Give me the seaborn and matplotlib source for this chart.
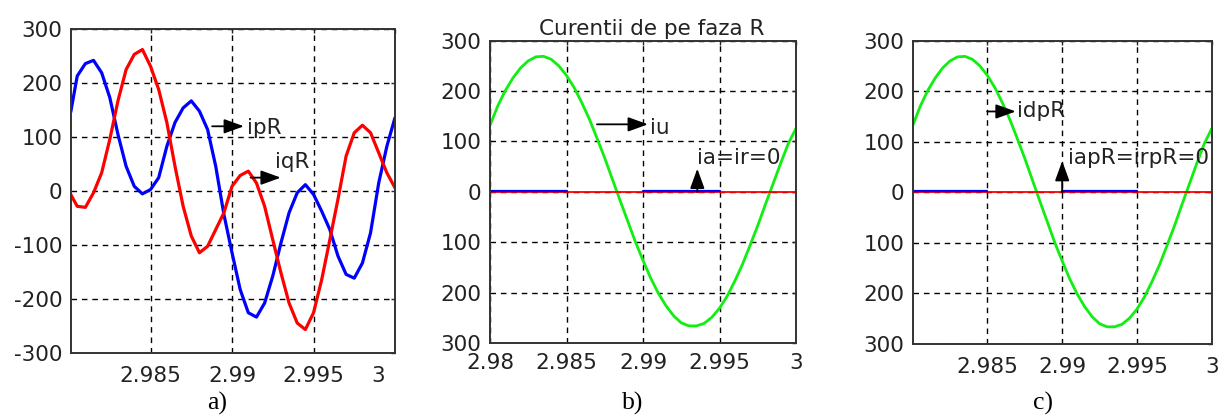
import matplotlib
matplotlib.use("Agg")
import matplotlib.pyplot as plt
import matplotlib.transforms as mtransforms
import pandas as pd
import seaborn as sns

# ---------------- data ----------------
t_a = [2.9801, 2.9805, 2.9810, 2.9815, 2.9820, 2.9825, 2.9830, 2.9835, 2.9840, 2.9845,
       2.9850, 2.9855, 2.9860, 2.9865, 2.9870, 2.9875, 2.9880, 2.9885, 2.9890, 2.9895,
       2.9900, 2.9905, 2.9910, 2.9915, 2.9920, 2.9925, 2.9930, 2.9935, 2.9940, 2.9945,
       2.9950, 2.9955, 2.9960, 2.9965, 2.9970, 2.9975, 2.9980, 2.9985, 2.9990, 2.9995,
       3.0000]
ipR = [146, 213, 236, 242, 219, 173, 105, 46, 9, -5,
       3, 25, 83, 127, 154, 167, 148, 114, 46, -43,
       -114, -182, -225, -233, -207, -157, -96, -40, -3, 12,
       -6, -37, -71, -120, -154, -161, -133, -77, 15, 83,
       136]
iqR = [-6, -28, -30, -3, 34, 96, 167, 225, 253, 262,
       231, 188, 127, 46, -28, -83, -114, -102, -71, -40,
       9, 29, 37, 15, -28, -90, -151, -207, -244, -256,
       -225, -164, -90, -15, 65, 108, 122, 108, 71, 34,
       6]

t_b = [2.9800, 2.9805, 2.9810, 2.9815, 2.9820, 2.9825, 2.9830, 2.9835, 2.9840, 2.9845,
       2.9850, 2.9855, 2.9860, 2.9865, 2.9870, 2.9875, 2.9880, 2.9885, 2.9890, 2.9895,
       2.9900, 2.9905, 2.9910, 2.9915, 2.9920, 2.9925, 2.9930, 2.9935, 2.9940, 2.9945,
       2.9950, 2.9955, 2.9960, 2.9965, 2.9970, 2.9975, 2.9980, 2.9985, 2.9990, 2.9995,
       3.0000]
iu = [132, 170, 201, 226, 246, 260, 268, 269, 263, 250,
      231, 207, 177, 144, 106, 67, 25, -17, -58, -99,
      -136, -171, -201, -226, -246, -260, -266, -266, -261, -249,
      -231, -207, -177, -144, -106, -67, -25, 16, 57, 96,
      126]
idpR = iu

zero_t = [2.9800, 3.0000]
zero_red = [0, 0]
blue_seg1_t = [2.9800, 2.9850]
blue_seg2_t = [2.9900, 2.9950]
blue_seg = [0, 0]

y_ticks = [-300, -200, -100, 0, 100, 200, 300]
y_labels_a = ["-300", "-200", "-100", "0", "100", "200", "300"]
y_labels_bc = ["300", "200", "100", "0", "100", "200", "300"]
x_ticks_a = [2.985, 2.99, 2.995, 3.0]
x_ticks_b = [2.98, 2.985, 2.99, 2.995, 3.0]
x_labels_a = ["2.985", "2.99", "2.995", "3"]
x_labels_b = ["2.98", "2.985", "2.99", "2.995", "3"]

# ---------------- style ----------------
sns.set_style("white")
plt.rcParams["font.family"] = ["DejaVu Sans"]
plt.rcParams["axes.unicode_minus"] = False

W, H = 1219, 415
fig = plt.figure(figsize=(W / 100, H / 100), dpi=100)


def px_axes(left, top, right, bottom):
    return fig.add_axes([left / W, 1 - bottom / H, (right - left) / W, (bottom - top) / H])


ax_a = px_axes(70.7, 29, 395, 353.3)
ax_b = px_axes(490, 40.7, 796, 343)
ax_c = px_axes(912.7, 40.7, 1211.7, 344)

TXT = "#222222"
FS = 15.5


def style_axes(ax, xlim, xt, xl, yl, xpad):
    ax.set_xlim(*xlim)
    ax.set_ylim(-300, 300)
    ax.set_xticks(xt)
    ax.set_xticklabels(xl)
    ax.set_yticks(y_ticks)
    ax.set_yticklabels(yl)
    ax.grid(True, color="black", linestyle=(0, (4, 3.5)), linewidth=1.0)
    ax.set_axisbelow(True)
    for s in ax.spines.values():
        s.set_visible(True)
        s.set_color("#333333")
        s.set_linewidth(1.4)
    ax.tick_params(axis="both", direction="in", length=3, width=1,
                   top=True, right=True, labelsize=FS, labelcolor=TXT)
    ax.tick_params(axis="x", pad=xpad)
    ax.tick_params(axis="y", pad=6)
    ax.set_xlabel("")
    ax.set_ylabel("")


def arrow(ax, x0, y0, x1, y1):
    ax.annotate("", xy=(x1, y1), xytext=(x0, y0),
                arrowprops=dict(arrowstyle="-|>,head_length=0.55,head_width=0.2",
                                color="black", lw=1.3,
                                mutation_scale=22, shrinkA=0, shrinkB=0))


# ---------------- panel a ----------------
df_a = pd.DataFrame({"t": t_a, "ipR": ipR, "iqR": iqR})
sns.lineplot(data=df_a, x="t", y="ipR", ax=ax_a, color="#0000ff", lw=2.3, sort=False, estimator=None)
sns.lineplot(data=df_a, x="t", y="iqR", ax=ax_a, color="#ff0000", lw=2.3, sort=False, estimator=None)
style_axes(ax_a, (2.9801, 3.0), x_ticks_a, x_labels_a, y_labels_a, 9)
arrow(ax_a, 2.98878, 120, 2.99073, 120)
ax_a.text(2.99094, 106, "ipR", fontsize=FS, color=TXT, ha="left", va="baseline")
arrow(ax_a, 2.99114, 25, 2.99299, 25)
ax_a.text(2.99264, 43, "iqR", fontsize=FS, color=TXT, ha="left", va="baseline")
lbl = ax_a.get_xticklabels()[-1]
lbl.set_transform(lbl.get_transform() + mtransforms.ScaledTranslation(-17 / 100, 0, fig.dpi_scale_trans))

# ---------------- panels b and c ----------------
up = mtransforms.ScaledTranslation(0, 1.2 / 100, fig.dpi_scale_trans)
for ax, sig in ((ax_b, iu), (ax_c, idpR)):
    df = pd.DataFrame({"t": t_b, "i": sig})
    sns.lineplot(data=df, x="t", y="i", ax=ax, color="#11ee11", lw=2.0, sort=False, estimator=None)
    sns.lineplot(x=zero_t, y=zero_red, ax=ax, color="#ff0000", lw=1.3, sort=False, estimator=None)
    for seg_t in (blue_seg1_t, blue_seg2_t):
        sns.lineplot(x=seg_t, y=blue_seg, ax=ax, color="#0000ff", lw=1.6, sort=False,
                     estimator=None, transform=ax.transData + up)

style_axes(ax_b, (2.98, 3.0), x_ticks_b, x_labels_b, y_labels_bc, 7)
style_axes(ax_c, (2.98, 3.0), x_ticks_a, x_labels_a, y_labels_bc, 9)

ax_b.set_title("Curentii de pe faza R", fontsize=FS, color=TXT, pad=4, x=0.53)
arrow(ax_b, 2.98699, 134, 2.99032, 134)
ax_b.text(2.99043, 115, "iu", fontsize=FS, color=TXT, ha="left", va="baseline")
arrow(ax_b, 2.99355, 0, 2.99355, 46)
ax_b.text(2.99355, 56, "ia=ir=0", fontsize=FS, color=TXT, ha="left", va="baseline")

arrow(ax_c, 2.98498, 160, 2.98689, 160)
ax_c.text(2.98701, 149, "idpR", fontsize=FS, color=TXT, ha="left", va="baseline")
arrow(ax_c, 2.99, 0, 2.99, 62)
ax_c.text(2.99038, 56, "iapR=irpR=0", fontsize=FS, color=TXT, ha="left", va="baseline")

# ---------------- sub-figure labels ----------------
for xc, s in ((217, "a)"), (633, "b)"), (1043, "c)")):
    fig.text(xc / W, 1 - 403 / H, s, fontsize=18.5, family="Liberation Serif",
             color="black", ha="center", va="center")

fig.savefig("out.png", dpi=100)
